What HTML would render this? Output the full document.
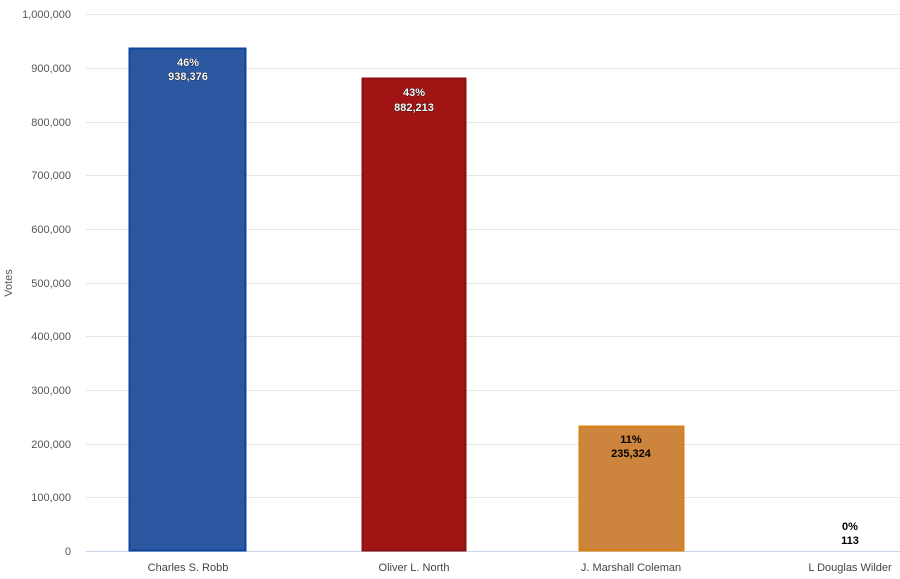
<!DOCTYPE html>
<html><head><style>body{margin:0;background:#fff}svg{display:block;font-family:"Liberation Sans",sans-serif}</style></head><body>
<svg width="900" height="579" viewBox="0 0 900 579">
<g stroke="#e6e6e6" stroke-width="1">
<line x1="86" x2="900" y1="14.5" y2="14.5"/><line x1="86" x2="900" y1="68.5" y2="68.5"/><line x1="86" x2="900" y1="122.5" y2="122.5"/><line x1="86" x2="900" y1="175.5" y2="175.5"/><line x1="86" x2="900" y1="229.5" y2="229.5"/><line x1="86" x2="900" y1="283.5" y2="283.5"/><line x1="86" x2="900" y1="336.5" y2="336.5"/><line x1="86" x2="900" y1="390.5" y2="390.5"/><line x1="86" x2="900" y1="444.5" y2="444.5"/><line x1="86" x2="900" y1="497.5" y2="497.5"/>
</g>
<line x1="86" x2="900" y1="551.5" y2="551.5" stroke="#ccd6eb"/>
<g font-size="11" fill="#555" text-anchor="end">
<text x="71" y="18">1,000,000</text><text x="71" y="72">900,000</text><text x="71" y="126">800,000</text><text x="71" y="179">700,000</text><text x="71" y="233">600,000</text><text x="71" y="287">500,000</text><text x="71" y="340">400,000</text><text x="71" y="394">300,000</text><text x="71" y="448">200,000</text><text x="71" y="501">100,000</text><text x="71" y="555">0</text>
</g>
<text transform="translate(12,283) rotate(-90)" font-size="11" fill="#555" text-anchor="middle">Votes</text>
<rect x="129.5" y="48.5" width="116" height="502" fill="#2b58a0" stroke="#0f469b" stroke-width="2"/>
<rect x="362.5" y="78.5" width="103" height="472" fill="#a01414" stroke="#8e0f0f" stroke-width="2"/>
<rect x="579.5" y="426.5" width="104" height="124" fill="#cd843d" stroke="#d98010" stroke-width="2"/>
<g font-size="11" font-weight="bold" text-anchor="middle">
<g fill="#fff" stroke="#000" stroke-width="0.6" paint-order="stroke">
<text x="188" y="66">46%</text><text x="188" y="80">938,376</text>
<text x="414" y="96">43%</text><text x="414" y="111">882,213</text>
</g>
<g fill="#000">
<text x="631" y="443">11%</text><text x="631" y="457">235,324</text>
<text x="850" y="530">0%</text><text x="850" y="544">113</text>
</g>
</g>
<g font-size="11" fill="#444" text-anchor="middle">
<text x="188" y="571">Charles S. Robb</text><text x="414" y="571">Oliver L. North</text><text x="631" y="571">J. Marshall Coleman</text><text x="850" y="571">L Douglas Wilder</text>
</g>
</svg>
</body></html>
